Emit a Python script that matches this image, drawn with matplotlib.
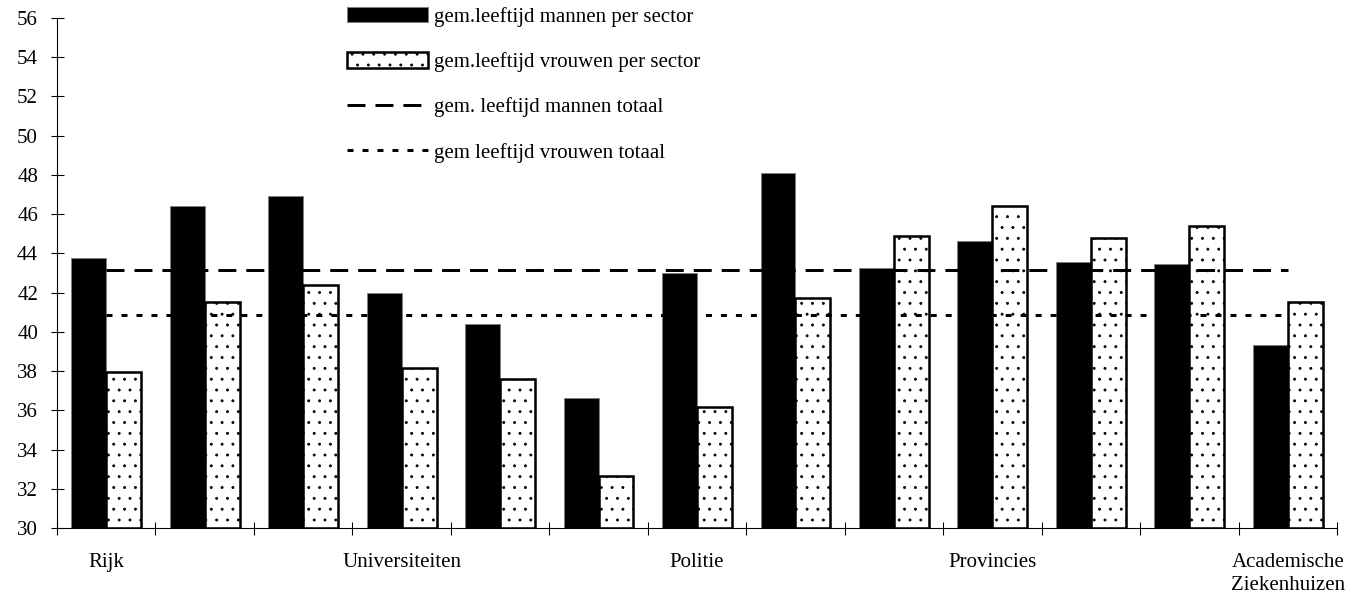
import matplotlib
matplotlib.use("Agg")
import matplotlib.pyplot as plt
import numpy as np
from matplotlib.patches import Patch
from matplotlib.lines import Line2D
from matplotlib.ticker import NullFormatter

# ---- data ----
categories = ["Rijk", "", "", "Universiteiten", "", "", "Politie", "", "",
              "Provincies", "", "", "Academische\nZiekenhuizen"]
men = [43.75, 46.4, 46.95, 42.0, 40.4, 36.65, 43.0, 48.1, 43.25, 44.65, 43.55, 43.45, 39.35]
women = [37.95, 41.5, 42.4, 38.15, 37.6, 32.65, 36.15, 41.75, 44.9, 46.4, 44.8, 45.4, 41.5]
men_total = 43.15
women_total = 40.85
yticks = list(range(30, 57, 2))
legend_labels = ["gem.leeftijd mannen per sector",
                 "gem.leeftijd vrouwen per sector",
                 "gem. leeftijd mannen totaal",
                 "gem leeftijd vrouwen totaal"]

# ---- style ----
DPI = 130
W, H = 1352, 599
FS = 11.6
plt.rcParams['font.family'] = ['Liberation Serif', 'DejaVu Serif']
plt.rcParams['hatch.linewidth'] = 0.4

fig = plt.figure(figsize=(W / DPI, H / DPI), dpi=DPI)
ax = fig.add_axes([57 / W, 71 / H, 1280 / W, 510 / H])

x = np.arange(len(categories))
base = yticks[0]
bw = 0.355

ax.bar(x - bw / 2, np.array(men) - base, bw, bottom=base, color='black',
       edgecolor='#7f7f7f', linewidth=0.5, zorder=2)
ax.bar(x + bw / 2, np.array(women) - base, bw, bottom=base, facecolor='white',
       edgecolor='black', hatch='..', linewidth=1.4, zorder=2)

lw = 1.66
ax.plot(x, [men_total] * len(x), color='black', lw=lw, dashes=(6, 3.33),
        solid_capstyle='butt', dash_capstyle='butt', zorder=3)
ax.plot(x, [women_total] * len(x), color='black', lw=lw, dashes=(2, 3),
        dash_capstyle='butt', zorder=3)

ax.set_xlim(-0.5, len(categories) - 0.5)
ax.set_ylim(yticks[0], yticks[-1])
ax.set_yticks(yticks)

ax.set_xticks(np.arange(-0.5, len(categories), 1.0))
ax.xaxis.set_major_formatter(NullFormatter())
ax.set_xticks(x, categories, minor=True)
ax.tick_params(axis='x', which='major', direction='inout', length=7.2, width=0.6)
ax.tick_params(axis='x', which='minor', length=0, pad=13.6, labelsize=FS)
for lab in ax.get_xticklabels(minor=True):
    lab.set_linespacing(1.3)
ax.tick_params(axis='y', direction='inout', length=7.2, width=0.6, pad=6.9,
               labelsize=FS)

for s in ['top', 'right']:
    ax.spines[s].set_visible(False)
for s in ['left', 'bottom']:
    ax.spines[s].set_linewidth(0.6)
    ax.spines[s].set_color('black')

handles = [
    Patch(facecolor='black', edgecolor='#7f7f7f', linewidth=0.5),
    Patch(facecolor='white', edgecolor='black', hatch='..', linewidth=1.4),
    Line2D([], [], color='black', lw=lw, dashes=(6, 3.33), dash_capstyle='butt'),
    Line2D([], [], color='black', lw=lw, dashes=(2, 3), dash_capstyle='butt'),
]
fig.legend(handles, legend_labels, loc='upper left',
           bbox_to_anchor=(347 / W, 1 - 7 / H), frameon=False, fontsize=FS,
           handlelength=3.86, handleheight=0.76, handletextpad=0.3,
           labelspacing=1.2, borderpad=0, borderaxespad=0)

fig.savefig('out.png', dpi=DPI)
